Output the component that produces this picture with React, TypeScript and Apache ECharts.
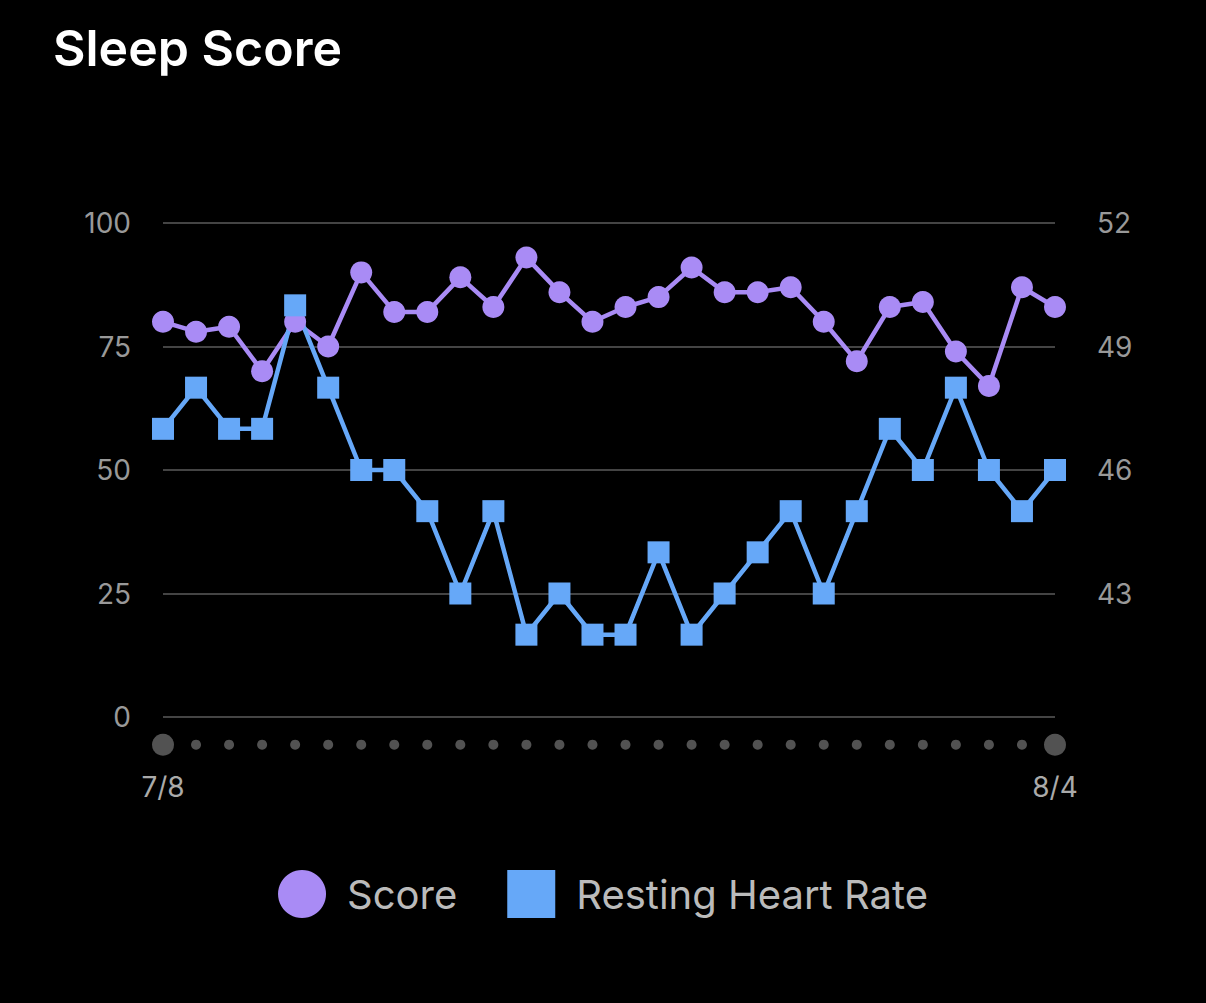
import React, { useEffect, useRef } from "react";
import * as echarts from "echarts";

const dates = ["7/8","7/9","7/10","7/11","7/12","7/13","7/14","7/15","7/16","7/17","7/18","7/19","7/20","7/21","7/22","7/23","7/24","7/25","7/26","7/27","7/28","7/29","7/30","7/31","8/1","8/2","8/3","8/4"];
const score = [80,78,79,70,80,75,90,82,82,89,83,93,86,80,83,85,91,86,86,87,80,72,83,84,74,67,87,83];
const restingHR = [47,48,47,47,50,48,46,46,45,43,45,42,43,42,42,44,42,43,44,45,43,45,47,46,48,46,45,46];
const dotRow = dates.map(() => -5.6);

export default function App() {
  const ref = useRef<HTMLDivElement>(null);
  useEffect(() => {
    const chart = echarts.init(ref.current!, null, { renderer: "svg" });
    const font = "-apple-system, 'Inter', 'Noto Sans', sans-serif";
    chart.setOption({
      animation: false,
      backgroundColor: "#000",
      textStyle: { fontFamily: font },
      title: { text: "Sleep Score", left: 48, top: 18, textStyle: { color: "#fff", fontSize: 50, fontWeight: 600, fontFamily: font } },
      grid: { left: 163, right: 151, top: 223, bottom: 286 },
      legend: {
        data: [
          { name: "Score", icon: "circle" },
          { name: "Resting Heart Rate", icon: "rect" },
        ],
        bottom: 80, left: "center", itemWidth: 48, itemHeight: 48, itemGap: 50,
        textStyle: { color: "#bbb", fontSize: 40, padding: [0, 0, 0, 16] },
      },
      xAxis: {
        type: "category", data: dates, boundaryGap: false,
        axisLine: { show: false }, axisTick: { show: false },
        axisLabel: {
          color: "#aaa", fontSize: 28, margin: 56,
          interval: (i: number) => i === 0 || i === dates.length - 1,
        },
      },
      yAxis: [
        {
          type: "value", min: 0, max: 100, interval: 25,
          axisLabel: { color: "#999", fontSize: 28, margin: 32 },
          splitLine: { lineStyle: { color: "#444", width: 2 } },
          axisLine: { show: false }, axisTick: { show: false },
        },
        {
          type: "value", min: 40, max: 52, interval: 3,
          axisLabel: { color: "#999", fontSize: 28, margin: 42, formatter: (v: number) => (v === 40 ? "" : String(v)) },
          splitLine: { show: false }, axisLine: { show: false }, axisTick: { show: false },
        },
      ],
      series: [
        {
          name: "Score", type: "line", data: score, yAxisIndex: 0,
          symbol: "circle", symbolSize: 22, showSymbol: true, showAllSymbol: true,
          lineStyle: { color: "#a98bf5", width: 4.5 }, itemStyle: { color: "#a98bf5" },
        },
        {
          name: "Resting Heart Rate", type: "line", data: restingHR, yAxisIndex: 1,
          symbol: "rect", symbolSize: 22, showSymbol: true, showAllSymbol: true,
          lineStyle: { color: "#66a8f8", width: 4.5 }, itemStyle: { color: "#66a8f8" },
        },
        {
          name: "dots", type: "scatter", data: dotRow, yAxisIndex: 0, clip: false, silent: true,
          symbolSize: (_v: number, p: any) => (p.dataIndex === 0 || p.dataIndex === dates.length - 1 ? 22 : 10),
          itemStyle: { color: "#666" },
        },
      ],
    });
    return () => chart.dispose();
  }, []);
  return <div ref={ref} style={{ position: "fixed", left: 0, top: 0, width: 1206, height: 1003 }} />;
}
